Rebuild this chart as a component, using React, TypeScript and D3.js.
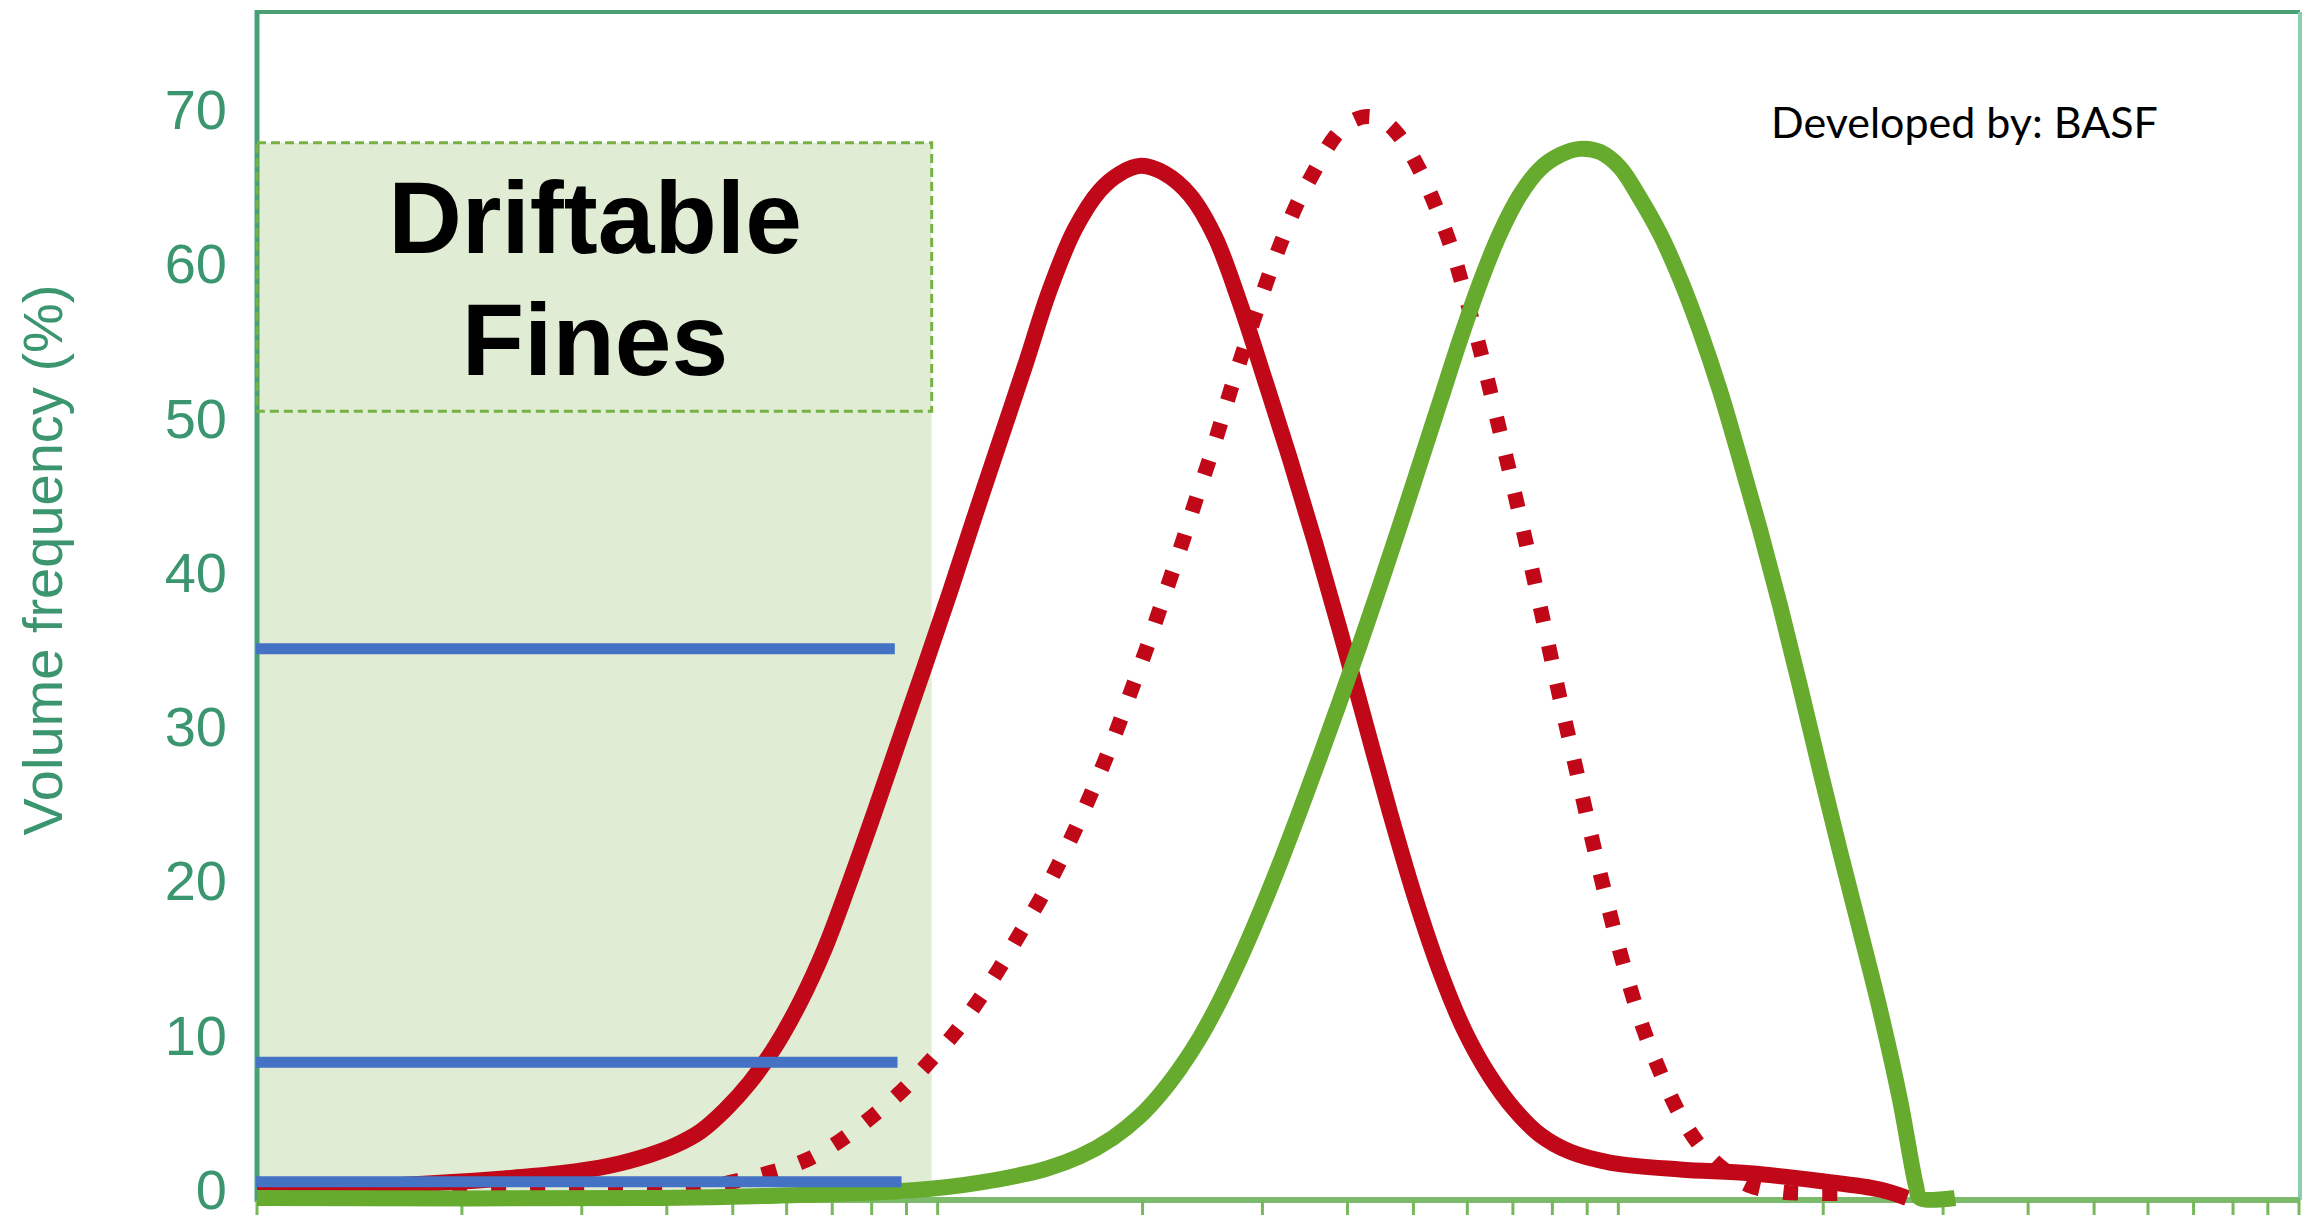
import React from 'react';
import * as d3 from 'd3';

// ---- data ----
const yTickValues = [0, 10, 20, 30, 40, 50, 60, 70];

// fine spray (solid red): droplet size (µm) vs volume frequency (%)
const fineSize = [10, 16.2, 22.8, 27.9, 33.0, 37.8, 41.1, 44.8, 48.7, 53.0, 57.7, 62.8, 68.3, 74.3, 80.9, 88.0, 95.8, 104.3, 113.4, 123.5, 134.3, 146.2, 159.1, 173.1, 185.3, 198.9, 215.7, 234.8, 255.5, 278.0, 302.6, 329.3, 358.3, 389.9, 424.3, 461.8, 502.5, 546.9, 595.1, 647.6, 704.8, 767.1, 849, 972, 1232, 1561, 1978, 2423, 2655];
const fineVol = [0.6, 0.85, 1.25, 1.6, 2.1, 2.8, 3.4, 4.3, 5.7, 7.5, 9.8, 12.7, 16.2, 20.5, 25.1, 29.8, 34.5, 39.3, 44.2, 49.1, 53.9, 58.9, 62.8, 65.3, 66.4, 66.9, 66.4, 65.0, 62.3, 58.0, 53.0, 47.9, 42.5, 36.8, 30.9, 25.0, 19.5, 14.7, 10.8, 7.9, 5.7, 4.1, 3.0, 2.3, 1.85, 1.6, 1.1, 0.55, 0];

// medium spray (dotted red)
const medSize = [10, 19.9, 31.9, 43.2, 49.4, 56.2, 63.7, 71.8, 80.2, 88.4, 97.1, 106, 114.8, 123.3, 131.9, 141.2, 150, 159.3, 168, 177, 185.3, 194, 203, 211.4, 219.8, 230, 238.9, 250, 260, 270, 287.6, 305.5, 320, 337, 355, 383.6, 406.1, 430, 455.5, 481, 511, 541.3, 569.4, 595.1, 626.3, 669.9, 716.9, 767, 820.8, 878.3, 939.5, 1005, 1076, 1151, 1232, 1318, 1434, 1561, 1728, 1911, 2249];
const medVol = [0.3, 0.3, 0.35, 0.5, 1.0, 1.6, 2.4, 3.7, 5.3, 6.9, 8.8, 10.7, 12.8, 14.9, 17.1, 19.3, 21.5, 23.9, 26.2, 28.6, 30.9, 33.3, 35.7, 38.0, 40.2, 42.8, 45.1, 47.7, 50.1, 52.5, 56.2, 59.6, 62.0, 64.4, 66.3, 68.8, 69.8, 70.1, 69.7, 68.6, 66.6, 64.1, 61.5, 58.6, 55.0, 49.7, 44.2, 38.4, 32.4, 26.7, 21.1, 16.0, 11.6, 8.2, 5.4, 3.4, 1.8, 0.8, 0.4, 0.3, 0.3];

// coarse spray (solid green)
const coarseSize = [10, 39.1, 58, 92, 115.2, 144.5, 161.9, 180.9, 198.2, 212.1, 227.0, 242.9, 259.9, 278.0, 297.5, 318.3, 340.6, 364.4, 389.9, 417.3, 446.5, 477.7, 511.1, 546.9, 585.2, 626.1, 669.9, 716.9, 767.1, 820.8, 878.3, 939.5, 1005, 1076, 1151, 1232, 1318, 1411, 1509, 1615, 1728, 1848, 1977, 2116, 2264, 2423, 2592, 2737, 2774, 3123];
const coarseVol = [0, 0, 0.15, 0.5, 1.0, 1.9, 2.7, 3.9, 5.3, 6.7, 8.4, 10.4, 12.8, 15.5, 18.5, 21.7, 25.1, 28.6, 32.2, 35.9, 39.7, 43.6, 47.6, 51.6, 55.6, 59.3, 62.5, 65.0, 66.7, 67.6, 68.0, 67.8, 66.8, 64.8, 62.5, 59.6, 56.2, 52.3, 47.9, 43.3, 38.4, 33.2, 27.8, 22.5, 17.4, 12.2, 6.4, 0.8, 0, 0];

// share of volume in driftable fines (blue markers)
const fineShareLevels = [35.6, 8.8, 1.05];
const fineShareEnd = [86.5, 87.3, 88.5];

const driftLimit = 98; // µm
const driftBoxTop = 68.4;
const driftBoxBottom = 51.0;

const W = 2303;
const H = 1215;

const xScale = d3.scaleLog().domain([10, 10000]).range([257, 2299]);
const yScale = d3.scaleLinear().domain([0, 70]).range([1198, 118]);

const zip = (xs: number[], ys: number[]) => xs.map((x, i) => [x, ys[i]] as [number, number]);

const lineGen = d3
  .line<[number, number]>()
  .x((d) => xScale(d[0]))
  .y((d) => yScale(d[1]))
  .curve(d3.curveCatmullRom.alpha(0.5));

export default function App() {
  const xTicks = xScale.ticks();
  const left = 257;
  const right = 2300;
  const top = 12;
  const axisY = 1200;
  const boxRight = xScale(driftLimit);
  const boxTopY = yScale(driftBoxTop);
  const boxBotY = yScale(driftBoxBottom);

  return (
    <svg
      width={W}
      height={H}
      viewBox={`0 0 ${W} ${H}`}
      style={{ position: 'absolute', left: 0, top: 0, display: 'block', background: '#fff' }}
    >
      {/* driftable fines shading */}
      <rect x={left} y={boxTopY} width={boxRight - left} height={axisY - boxTopY} fill="#e1ecd5" />

      {/* frame */}
      <line x1={left - 2} x2={right} y1={top} y2={top} stroke="#4a9f74" strokeWidth={4} />
      <line x1={right} x2={right} y1={top} y2={axisY} stroke="#8ccfae" strokeWidth={4} />
      <line x1={left} x2={left} y1={top - 2} y2={axisY + 2} stroke="#4a9f74" strokeWidth={5} />

      {/* dashed label box */}
      <rect
        x={left}
        y={boxTopY}
        width={boxRight - left}
        height={boxBotY - boxTopY}
        fill="none"
        stroke="#76b243"
        strokeWidth={3}
        strokeDasharray="9 5"
      />

      {/* x axis */}
      <line x1={left} x2={right} y1={axisY} y2={axisY} stroke="#7cba6c" strokeWidth={6} />
      {xTicks.map((t, i) => (
        <line key={i} x1={xScale(t)} x2={xScale(t)} y1={axisY} y2={H} stroke="#78b85c" strokeWidth={3} />
      ))}

      {/* curves */}
      <path d={lineGen(zip(fineSize, fineVol)) || ''} fill="none" stroke="#c00818" strokeWidth={16} strokeLinejoin="round" />
      <path
        d={lineGen(zip(medSize, medVol)) || ''}
        fill="none"
        stroke="#c00818"
        strokeWidth={15}
        strokeDasharray="15 24"
      />
      <path d={lineGen(zip(coarseSize, coarseVol)) || ''} fill="none" stroke="#66ab2d" strokeWidth={16} strokeLinejoin="round" />

      {/* blue fines-share markers */}
      {fineShareLevels.map((v, i) => (
        <line
          key={i}
          x1={left - 1}
          x2={xScale(fineShareEnd[i])}
          y1={yScale(v)}
          y2={yScale(v)}
          stroke="#4472c4"
          strokeWidth={11}
        />
      ))}

      {/* y tick labels */}
      {yTickValues.map((v) => (
        <text
          key={v}
          x={227}
          y={yScale(v) + 11}
          textAnchor="end"
          fontFamily="'Liberation Sans', Arial, sans-serif"
          fontSize={56}
          fill="#3b9670"
        >
          {v}
        </text>
      ))}

      {/* y axis title */}
      <text
        transform="translate(62,560) rotate(-90)"
        textAnchor="middle"
        fontFamily="'Liberation Sans', Arial, sans-serif"
        fontSize={56}
        fill="#3b9670"
      >
        Volume frequency (%)
      </text>

      {/* Driftable Fines label */}
      <text
        x={595}
        y={253}
        textAnchor="middle"
        fontFamily="'Liberation Sans', Arial, sans-serif"
        fontWeight="bold"
        fontSize={102}
        fill="#000"
      >
        Driftable
      </text>
      <text
        x={595}
        y={375}
        textAnchor="middle"
        fontFamily="'Liberation Sans', Arial, sans-serif"
        fontWeight="bold"
        fontSize={102}
        fill="#000"
      >
        Fines
      </text>

      {/* credit */}
      <text x={1771} y={138} fontFamily="Lato, 'Open Sans', sans-serif" fontSize={43} fill="#000">
        Developed by: BASF
      </text>
    </svg>
  );
}
